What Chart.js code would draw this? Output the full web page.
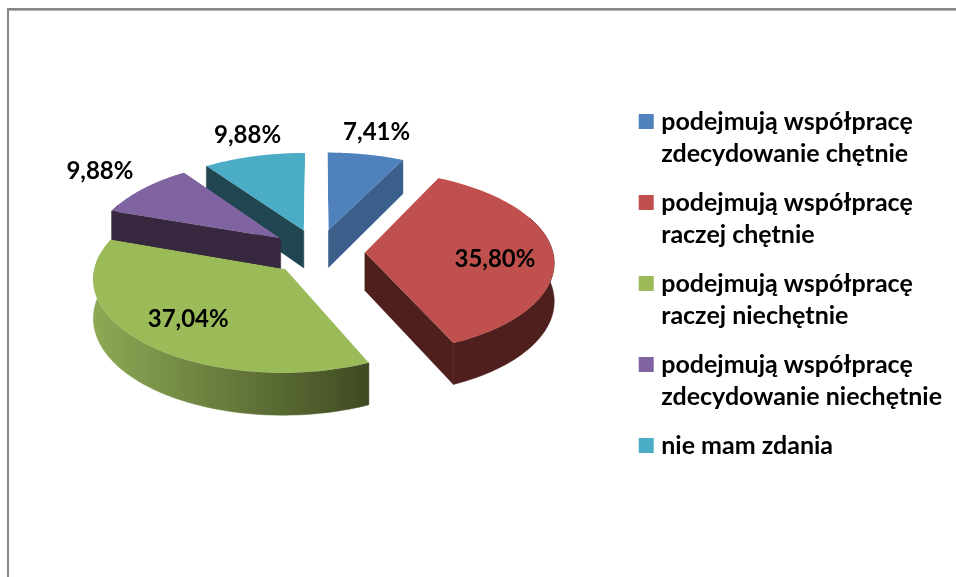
<!DOCTYPE html>
<html><head><meta charset="utf-8">
<style>html,body{margin:0;padding:0;background:#fff}canvas{display:block}#w{width:956px;height:577px;position:relative}</style>
<script src="https://cdn.jsdelivr.net/npm/chart.js@4"></script>
</head><body><div id="w"><canvas id="c" width="956" height="577"></canvas></div>
<script>
const categories = [
  ['podejmują współpracę','zdecydowanie chętnie'],
  ['podejmują współpracę','raczej chętnie'],
  ['podejmują współpracę','raczej niechętnie'],
  ['podejmują współpracę','zdecydowanie niechętnie'],
  ['nie mam zdania']
];
const values = [7.41, 35.80, 37.04, 9.88, 9.88];
const topColors = ['#4F81BD','#C0504D','#9BBB59','#8064A2','#4BACC6'];
const sideColors = ['#3A5F8B','#4F1F1E','#3F4A22','#37283F','#1F4651'];
const labelRadii = [1.27, 0.68, 0.74, 1.28, 1.22];
const labelNudgeX = [2, 2, 4, -7, 3];
const labelNudgeY = [-5, 6, -4, -5, -7];

const FONT = 'Lato, Carlito, sans-serif';
const EXPLODE = 47, TILT = 0.485, FX = 2000, FY = 1900, DEPTH = 38, LIFT = -35;
const project = (u, v) => ({x: u * (1 + v / FX), y: TILT * v * (1 + v / FY)});
const paintOrder = [4, 3, 0, 1, 2];

function sliceGeometry(arc) {
  const {x, y, startAngle: s, endAngle: e, outerRadius: R} = arc.getProps(['x','y','startAngle','endAngle','outerRadius']);
  const mid = (s + e) / 2, u0 = EXPLODE * Math.cos(mid), v0 = EXPLODE * Math.sin(mid);
  const map = (t, r) => {
    const v = v0 + r * Math.sin(t), p = project(u0 + r * Math.cos(t), v);
    return {x: x + p.x, y: y + LIFT + p.y, dz: DEPTH * (1 + v / FY)};
  };
  const T0 = map(0, 0), T1 = map(s, R), T2 = map(e, R);
  const e1 = {x: R * Math.cos(s), y: R * Math.sin(s)}, e2 = {x: R * Math.cos(e), y: R * Math.sin(e)};
  const t1 = {x: T1.x - T0.x, y: T1.y - T0.y}, t2 = {x: T2.x - T0.x, y: T2.y - T0.y};
  const det = e1.x * e2.y - e2.x * e1.y;
  const a = (t1.x * e2.y - t2.x * e1.y) / det, c = (t2.x * e1.x - t1.x * e2.x) / det;
  const b = (t1.y * e2.y - t2.y * e1.y) / det, d = (t2.y * e1.x - t1.y * e2.x) / det;
  const f = T0.x - a * x - c * y, g = T0.y - b * x - d * y;
  return {x, y, s, e, R, mid, m: [a, b, c, d, f, g], map, apex: T0};
}

function tracePoly(ctx, pts) {
  ctx.beginPath();
  pts.forEach((p, i) => i ? ctx.lineTo(p.x, p.y) : ctx.moveTo(p.x, p.y));
  ctx.closePath();
}
function poly(ctx, pts, fill) {
  tracePoly(ctx, pts);
  ctx.fillStyle = fill;
  ctx.fill();
  ctx.strokeStyle = fill;
  ctx.lineWidth = 0.5;
  ctx.stroke();
}
function cutFace(ctx, g, t, fill) {
  const a = g.apex, c = g.map(t, g.R);
  poly(ctx, [a, c, {x: c.x, y: c.y + c.dz}, {x: a.x, y: a.y + a.dz}], fill);
}

const pie3d = {
  id: 'pie3d',
  beforeDraw(chart) {
    const ctx = chart.ctx;
    ctx.save();
    ctx.fillStyle = '#fff'; ctx.fillRect(0, 0, 956, 577);
    ctx.fillStyle = '#868686';
    ctx.fillRect(7, 8, 949, 2);
    ctx.fillRect(7, 8, 2, 569);
    ctx.fillStyle = '#b4b4b4';
    ctx.fillRect(9, 10, 947, 1);
    ctx.restore();
  },
  beforeDatasetDraw(chart, args) {
    const ctx = chart.ctx, meta = args.meta, minX = 92, maxX = 369;
    for (const i of paintOrder) {
      const arc = meta.data[i], g = sliceGeometry(arc), steps = 90;
      const rim = [], front = [];
      for (let k = 0; k <= steps; k++) {
        const t = g.s + (g.e - g.s) * k / steps, p = g.map(t, g.R);
        rim.push(p);
        if (Math.sin(t) > -0.4) front.push(p);
      }
      ctx.save();
      if (front.length) {
        let fill = sideColors[i];
        if (i === 2) {
          fill = ctx.createLinearGradient(minX, 0, maxX, 0);
          fill.addColorStop(0, '#8EAA55');
          fill.addColorStop(1, '#3F4A22');
        }
        poly(ctx, front.concat(front.map(p => ({x: p.x, y: p.y + p.dz})).reverse()), fill);
      }
      if (Math.cos(g.s) < -1e-6) cutFace(ctx, g, g.s, sideColors[i]);
      if (Math.cos(g.e) > 1e-6) cutFace(ctx, g, g.e, sideColors[i]);
      tracePoly(ctx, [g.apex].concat(rim));
      ctx.clip();
      ctx.transform(...g.m);
      ctx.translate(g.x, g.y);
      ctx.scale(1.25, 1.25);
      ctx.translate(-g.x, -g.y);
      arc.draw(ctx);
      ctx.restore();
    }
    ctx.save();
    ctx.fillStyle = '#000';
    ctx.font = '700 24px ' + FONT;
    ctx.textAlign = 'center';
    ctx.textBaseline = 'middle';
    meta.data.forEach((arc, i) => {
      const g = sliceGeometry(arc), p = g.map(g.mid, g.R * labelRadii[i]);
      ctx.fillText(values[i].toFixed(2).replace('.', ',') + '%', p.x + labelNudgeX[i], p.y + labelNudgeY[i]);
    });
    ctx.restore();
    return false;
  }
};

new Chart(document.getElementById('c'), {
  type: 'pie',
  data: {labels: categories, datasets: [{data: values, backgroundColor: topColors, borderWidth: 0}]},
  plugins: [pie3d],
  options: {
    responsive: false,
    animation: false,
    radius: 188,
    layout: {padding: {left: 9, right: 4, top: 0, bottom: 3}},
    plugins: {
      tooltip: {enabled: false},
      legend: {
        position: 'right',
        labels: {
          usePointStyle: true, pointStyle: 'rect',
          boxWidth: 5, boxHeight: 15, padding: 17, color: '#000',
          font: {family: FONT, size: 25, weight: '700', lineHeight: 32 / 25}
        }
      }
    }
  }
});
</script></body></html>
